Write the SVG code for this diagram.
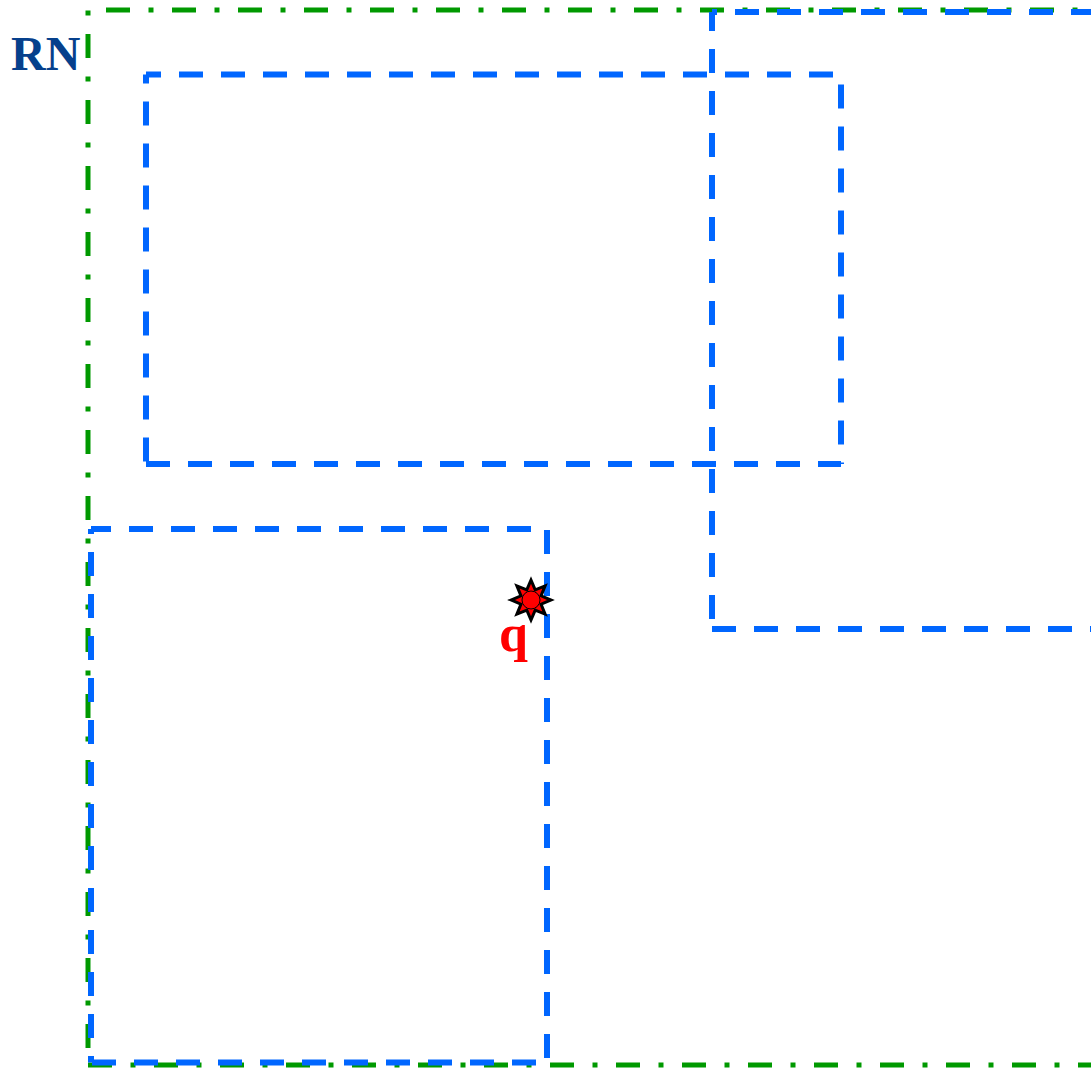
<svg xmlns="http://www.w3.org/2000/svg" width="1091" height="1068" viewBox="0 0 1091 1068">
<style>
.g{fill:none;stroke:#009900;stroke-width:5;stroke-dasharray:24 18.5 5 18.5}
.b{fill:none;stroke:#0066ff;stroke-width:6;stroke-dasharray:24 18}
.lbl{font-family:"Liberation Serif","Times New Roman",serif;font-weight:bold}
</style>
<rect width="1091" height="1068" fill="#ffffff"/>
<g id="RN">
<path class="g" d="M88,10 H1100" stroke-dashoffset="48"/>
<path class="g" d="M88,10 V1065" stroke-dashoffset="42"/>
<path class="g" d="M88,1065 H1100" stroke-dashoffset="0"/>
<text class="lbl" x="11" y="70" font-size="48" fill="#06408c">RN</text>
</g>
<g id="N1">
<path class="b" d="M146,74.5 H841" stroke-dashoffset="9"/>
<path class="b" d="M841,74.5 V464" stroke-dashoffset="32"/>
<path class="b" d="M146,464 H841" stroke-dashoffset="0"/>
<path class="b" d="M146,74.5 V464" stroke-dashoffset="15"/>
</g>
<g id="N2">
<path class="b" d="M712,12 H1100" stroke-dashoffset="19"/>
<path class="b" d="M712,12 V629" stroke-dashoffset="5"/>
<path class="b" d="M712,629 H1100" stroke-dashoffset="0"/>
</g>
<g id="N3">
<path class="b" d="M91,529 H547" stroke-dashoffset="4"/>
<path class="b" d="M547,529 V1062.5" stroke-dashoffset="41"/>
<path class="b" d="M91,1062.5 H547" stroke-dashoffset="41"/>
<path class="b" d="M91,529 V1062.5" stroke-dashoffset="19"/>
</g>
<g id="q">
<polygon points="531,580 535.2,589.9 545.1,585.9 541.1,595.8 551,600 541.1,604.2 545.1,614.1 535.2,610.1 531,620 526.8,610.1 516.9,614.1 520.9,604.2 511,600 520.9,595.8 516.9,585.9 526.8,589.9" fill="#ff0000" stroke="#000000" stroke-width="3" stroke-linejoin="miter"/>
<circle cx="531" cy="600" r="9" fill="#ff0000" stroke="#000000" stroke-width="1"/>
<text class="lbl" x="499" y="651" font-size="52" fill="#ff0000">q</text>
</g>
<g id="connectors"/>
</svg>
